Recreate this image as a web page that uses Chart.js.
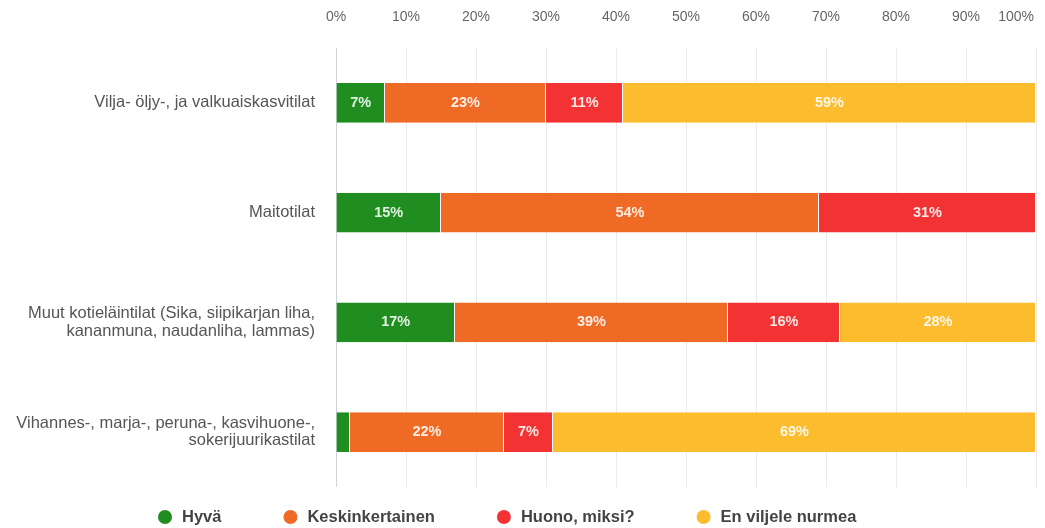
<!DOCTYPE html>
<html>
<head>
<meta charset="utf-8">
<script src="https://cdn.jsdelivr.net/npm/chart.js@4/dist/chart.umd.min.js"></script>
<style>
  html, body { margin: 0; padding: 0; background: #fff; }
  #wrap { position: relative; width: 1045px; height: 528px; }
</style>
</head>
<body>
<div id="wrap"><canvas id="c" width="1045" height="528"></canvas></div>
<script>
const categories = [
  "Vilja- öljy-, ja valkuaiskasvitilat",
  "Maitotilat",
  ["Muut kotieläintilat (Sika, siipikarjan liha,", "kananmuna, naudanliha, lammas)"],
  ["Vihannes-, marja-, peruna-, kasvihuone-,", "sokerijuurikastilat"]
];
const seriesNames = ["Hyvä", "Keskinkertainen", "Huono, miksi?", "En viljele nurmea"];
const hyva = [7, 15, 17, 2];
const keskinkertainen = [23, 54, 39, 22];
const huono = [11, 31, 16, 7];
const enViljele = [59, 0, 28, 69];
const tickLabels = ["0%", "10%", "20%", "30%", "40%", "50%", "60%", "70%", "80%", "90%", "100%"];
const colors = ["#1f8d1f", "#ef6a24", "#f33333", "#fbbc2d"];

const seriesValues = [hyva, keskinkertainen, huono, enViljele];
const FONT = '"Liberation Sans", Arial, sans-serif';

const barLabels = {
  id: 'barLabels',
  afterDatasetsDraw(chart) {
    const ctx = chart.ctx;
    ctx.save();
    ctx.font = 'bold 14.5px ' + FONT;
    ctx.fillStyle = 'rgba(255,255,255,0.88)';
    ctx.textAlign = 'center';
    ctx.textBaseline = 'middle';
    chart.data.datasets.forEach((ds, di) => {
      const meta = chart.getDatasetMeta(di);
      meta.data.forEach((bar, i) => {
        const v = ds.data[i];
        if (v < 5) return;
        const x0 = Math.min(bar.x, bar.base), x1 = Math.max(bar.x, bar.base);
        ctx.fillText(v + '%', (x0 + x1) / 2, bar.y);
      });
    });
    ctx.restore();
  }
};

// last tick label is pulled inside the canvas, as in the reference
const lastTick = {
  id: 'lastTick',
  afterDraw(chart) {
    const ctx = chart.ctx;
    ctx.save();
    ctx.font = '14px ' + FONT;
    ctx.fillStyle = '#666';
    ctx.textAlign = 'right';
    ctx.textBaseline = 'middle';
    ctx.fillText(tickLabels[tickLabels.length - 1], chart.width - 11, 17);
    ctx.restore();
  }
};

const customLegend = {
  id: 'customLegend',
  afterDraw(chart) {
    const ctx = chart.ctx;
    ctx.save();
    ctx.font = 'bold 16.5px ' + FONT;
    ctx.textBaseline = 'middle';
    ctx.textAlign = 'left';
    const y = 517, r = 7;
    let x = 158;
    chart.data.datasets.forEach((ds) => {
      ctx.fillStyle = ds.backgroundColor;
      ctx.beginPath();
      ctx.arc(x + r, y, r, 0, Math.PI * 2);
      ctx.fill();
      ctx.fillStyle = '#444';
      const tx = x + 2 * r + 10;
      ctx.fillText(ds.label, tx, y);
      x = tx + ctx.measureText(ds.label).width + 62;
    });
    ctx.restore();
  }
};

new Chart(document.getElementById('c'), {
  type: 'bar',
  data: {
    labels: categories,
    datasets: seriesNames.map((n, k) => ({
      label: n,
      data: seriesValues[k],
      backgroundColor: colors[k],
      borderColor: 'rgba(255,255,255,0.7)',
      borderWidth: {top: 0, bottom: 0, left: 0, right: 1},
      borderSkipped: false,
      barPercentage: 0.364,
      categoryPercentage: 1.0
    }))
  },
  options: {
    indexAxis: 'y',
    responsive: false,
    animation: false,
    devicePixelRatio: 1,
    layout: { padding: { left: 0, right: 9, top: 0, bottom: 41 } },
    plugins: {
      tooltip: { enabled: false },
      legend: { display: false }
    },
    scales: {
      x: {
        position: 'top',
        stacked: true,
        min: 0,
        max: 100,
        afterFit(s) { s.height = 48; s.paddingRight = 0; s.paddingLeft = 0; },
        grid: {
          drawTicks: false,
          color: (c) => c.index === 0 ? '#cfd3da' : '#ebebeb',
          lineWidth: 1
        },
        border: { display: false },
        ticks: {
          stepSize: 10,
          padding: 22,
          maxRotation: 0,
          minRotation: 0,
          autoSkip: false,
          color: '#666',
          font: { family: FONT, size: 14 },
          callback: (v, i) => i === tickLabels.length - 1 ? '' : tickLabels[i]
        }
      },
      y: {
        stacked: true,
        afterFit(s) { s.width = 336; },
        grid: { display: false, drawTicks: false },
        border: { display: false },
        ticks: {
          padding: 21,
          color: '#555',
          font: { family: FONT, size: 16.5, lineHeight: 1.05 }
        }
      }
    }
  },
  plugins: [barLabels, lastTick, customLegend]
});
</script>
</body>
</html>
